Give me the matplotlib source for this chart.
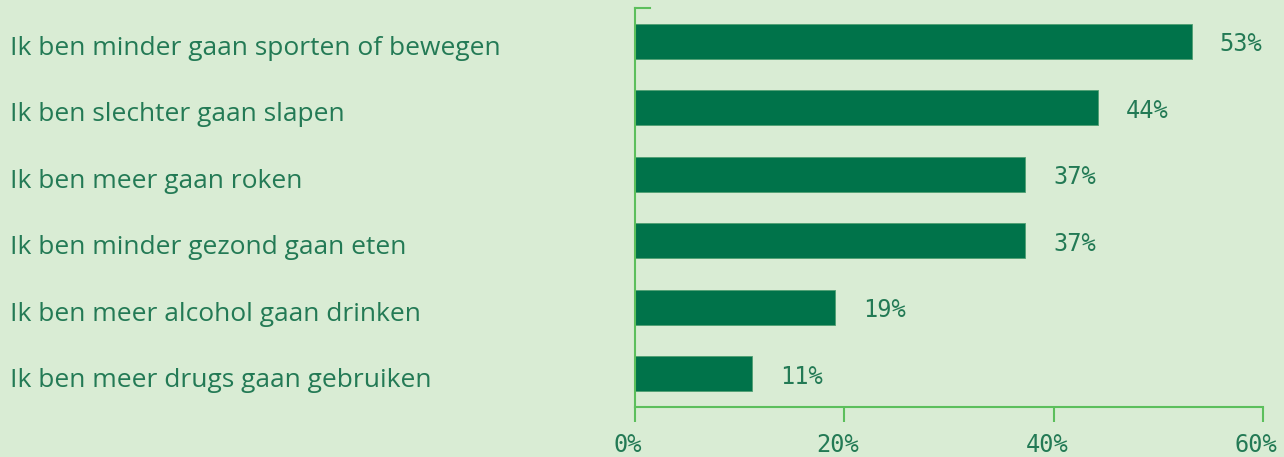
import matplotlib.pyplot as plt
from matplotlib.transforms import blended_transform_factory, offset_copy

# Chart data (top to bottom)
categories = [
    "Ik ben minder gaan sporten of bewegen",
    "Ik ben slechter gaan slapen",
    "Ik ben meer gaan roken",
    "Ik ben minder gezond gaan eten",
    "Ik ben meer alcohol gaan drinken",
    "Ik ben meer drugs gaan gebruiken",
]
values = [53.2, 44.2, 37.3, 37.3, 19.1, 11.2]
value_labels = ["53%", "44%", "37%", "37%", "19%", "11%"]
xticks = [0, 20, 40, 60]
xtick_labels = ["0%", "20%", "40%", "60%"]

bg = "#d9ecd4"
bar_color = "#00734a"
axis_color = "#5cbf5c"
text_color = "#237a55"

fig = plt.figure(figsize=(12.84, 4.57), dpi=100, facecolor=bg)
ax = fig.add_axes([635 / 1284, 50 / 457, 628 / 1284, 399 / 457])
ax.set_facecolor(bg)

ypos = list(range(len(categories)))[::-1]
ax.barh(ypos, values, height=0.53, color=bar_color, edgecolor="#4f9f72", linewidth=0.6)

ax.set_xlim(0, 60)
ax.set_ylim(-0.5, 5.5)

# value labels right of bars
for y, v, lab in zip(ypos, values, value_labels):
    ax.annotate(lab, (v, y), xytext=(20, -2), textcoords="offset points",
                va="center", ha="left", fontsize=17, color=text_color,
                family="DejaVu Sans Mono")

# category labels, left aligned at the figure edge
trans = blended_transform_factory(fig.transFigure, ax.transData)
trans = offset_copy(trans, fig=fig, x=0, y=-5, units="points")
for y, cat in zip(ypos, categories):
    ax.text(10 / 1284, y, cat, transform=trans, ha="left", va="center",
            fontsize=19, color=text_color, family="Open Sans")

ax.set_yticks([])
ax.set_xticks(xticks)
ax.set_xticklabels(xtick_labels, family="DejaVu Sans Mono", fontsize=17, color=text_color)
ax.tick_params(axis="x", direction="out", length=11, width=1.5, color=axis_color, pad=8)
for lab in ax.get_xticklabels():
    lab.set_transform(offset_copy(lab.get_transform(), fig=fig, x=-5, y=0, units="points"))

for side in ["top", "right"]:
    ax.spines[side].set_visible(False)
for side in ["left", "bottom"]:
    ax.spines[side].set_color(axis_color)
    ax.spines[side].set_linewidth(1.5)

# small cap at the top of the left axis
ax.plot([0, 1.4], [5.5, 5.5], color=axis_color, linewidth=1.5, clip_on=False)

fig.savefig("out.png", dpi=100, facecolor=bg)
